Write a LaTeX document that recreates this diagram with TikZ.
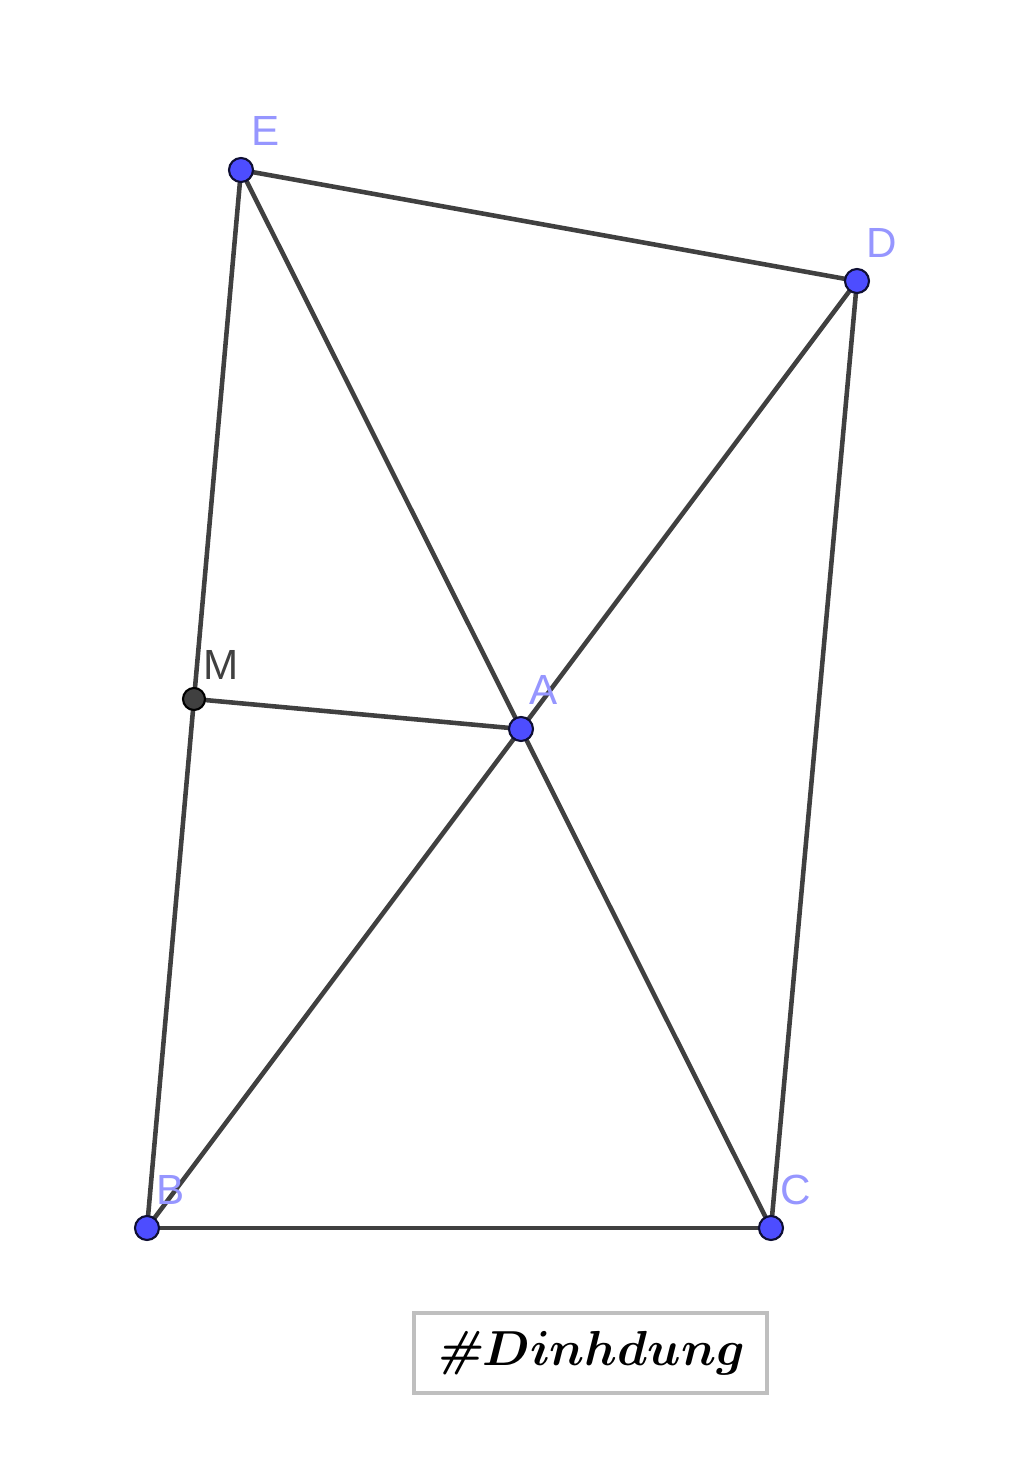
\RequirePackage{fix-cm}
\documentclass[tikz,border=0pt]{standalone}
\usepackage{bm}
\usepackage{fontspec}
\setsansfont{Liberation Sans}
\usetikzlibrary{backgrounds}
\definecolor{ggb_blue}{RGB}{77, 77, 255}
\definecolor{ggb_lbl}{RGB}{150, 150, 255}
\definecolor{ggb_line}{RGB}{64, 64, 64}
\definecolor{ggb_dark}{RGB}{64, 64, 64}
\tikzstyle{pt}=[circle,fill=ggb_blue,draw=black!80!ggb_blue,
  line width=1.2pt,inner sep=0pt,minimum size=0.48cm]
\tikzstyle{dpt}=[circle,fill=ggb_dark,draw=black,
  line width=1.2pt,inner sep=0pt,minimum size=0.44cm]
\tikzstyle{seg}=[draw=ggb_line,line width=2.6pt]
\tikzstyle{lbl}=[text=ggb_lbl,font=\sffamily\fontsize{24}{28}\selectfont,inner sep=0pt]
\tikzstyle{tagbox}=[draw=black!25,line width=1.8pt,minimum width=7.06cm,
  minimum height=1.6cm,inner sep=0pt,font=\fontsize{28}{33}\selectfont]

\begin{document}
\begin{tikzpicture}
    \useasboundingbox (0,0) rectangle (20.48,-29.58);
    \node [style=pt] (E) at (4.82,-3.40) {};
    \node [style=pt] (D) at (17.14,-5.62) {};
    \node [style=pt] (A) at (10.42,-14.58) {};
    \node [style=dpt] (M) at (3.88,-13.98) {};
    \node [style=pt] (B) at (2.94,-24.56) {};
    \node [style=pt] (C) at (15.42,-24.56) {};
    \node [style=lbl] (Elbl) at (5.32,-2.62) {E};
    \node [style=lbl] (Dlbl) at (17.64,-4.86) {D};
    \node [style=lbl] (Albl) at (10.88,-13.80) {A};
    \node [style=lbl,text=ggb_dark] (Mlbl) at (4.42,-13.30) {M};
    \node [style=lbl] (Blbl) at (3.42,-23.80) {B};
    \node [style=lbl] (Clbl) at (15.92,-23.80) {C};
    \node [style=tagbox] (hashtag) at (11.81,-27.06)
      {{\bfseries\itshape\#}$\bm{Dinhdung}$};
    \begin{pgfonlayer}{background}
    \draw [style=seg] (E.center) to (D.center);
    \draw [style=seg] (D.center) to (C.center);
    \draw [style=seg] (C.center) to (B.center);
    \draw [style=seg] (B.center) to (E.center);
    \draw [style=seg] (E.center) to (C.center);
    \draw [style=seg] (B.center) to (D.center);
    \draw [style=seg] (M.center) to (A.center);
    \end{pgfonlayer}
  \end{tikzpicture}
\end{document}
